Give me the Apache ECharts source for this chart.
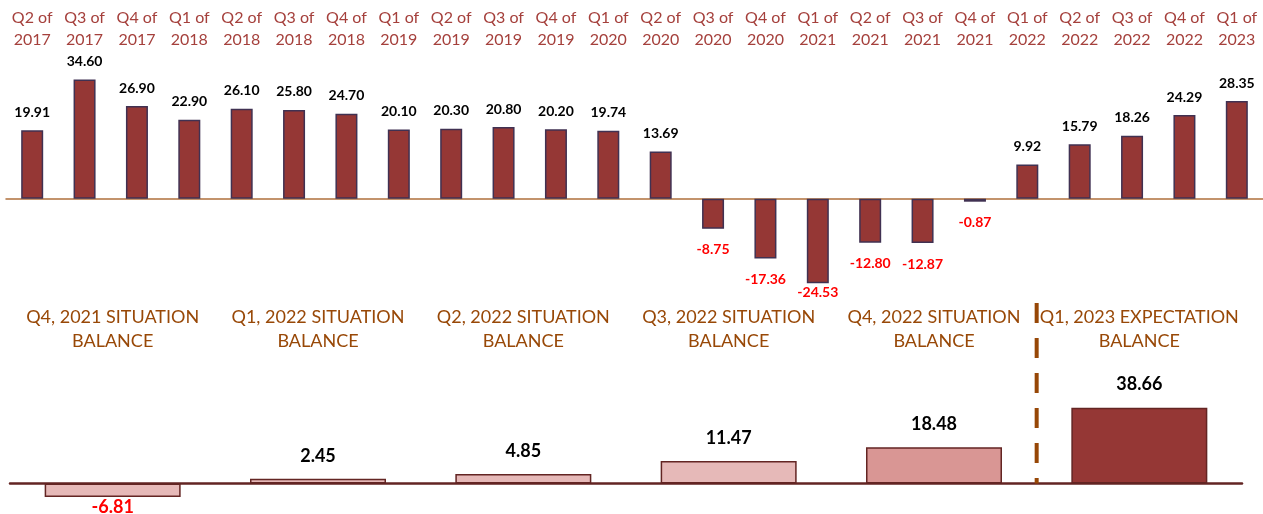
<!DOCTYPE html>
<html><head><meta charset="utf-8">
<script src="https://cdn.jsdelivr.net/npm/echarts@6/dist/echarts.min.js"></script>
<style>html,body{margin:0;padding:0;background:#fff}#c{width:1263px;height:514px}</style>
</head><body><div id="c"></div>
<script>
const quarters = ['Q2 of\n2017','Q3 of\n2017','Q4 of\n2017','Q1 of\n2018','Q2 of\n2018','Q3 of\n2018','Q4 of\n2018','Q1 of\n2019','Q2 of\n2019','Q3 of\n2019','Q4 of\n2019','Q1 of\n2020','Q2 of\n2020','Q3 of\n2020','Q4 of\n2020','Q1 of\n2021','Q2 of\n2021','Q3 of\n2021','Q4 of\n2021','Q1 of\n2022','Q2 of\n2022','Q3 of\n2022','Q4 of\n2022','Q1 of\n2023'];
const quarterValues = [19.91,34.60,26.90,22.90,26.10,25.80,24.70,20.10,20.30,20.80,20.20,19.74,13.69,-8.75,-17.36,-24.53,-12.80,-12.87,-0.87,9.92,15.79,18.26,24.29,28.35];
const balanceCategories = ['Q4, 2021 SITUATION\nBALANCE','Q1, 2022 SITUATION\nBALANCE','Q2, 2022 SITUATION\nBALANCE','Q3, 2022 SITUATION\nBALANCE','Q4, 2022 SITUATION\nBALANCE','Q1, 2023 EXPECTATION\nBALANCE'];
const balanceValues = [-6.81,2.45,4.85,11.47,18.48,38.66];
const dividerAt = 4.5;

const balanceColors = ['#e6b9b8','#e6b9b8','#e6b9b8','#e6b9b8','#d99694','#953735'];
const FONT = 'Lato';
const topMin = -30, topMax = 40, botMin = -14, botMax = 92;
const topH = 241, botH = 208;

// keep negative labels inside the plot area (like the original)
function negDist(v, min, h, want, labelH) {
  const room = (v - min) * h / (topMax - topMin);
  return Math.max(0, Math.min(want, room - labelH));
}

const topData = quarterValues.map(v => ({
  value: v,
  label: v < 0
    ? {position:'bottom', distance:Math.max(0, Math.min(14, (v - topMin) * topH / (topMax - topMin) - 17)), color:'#ff0000'}
    : {position:'top', distance:11, color:'#000'}
}));
const botData = balanceValues.map((v,i) => ({
  value: v,
  itemStyle: {color: balanceColors[i]},
  label: v < 0
    ? {position:'bottom', distance:1, color:'#ff0000'}
    : {position:'top', distance:14, color:'#000'}
}));

const chart = echarts.init(document.getElementById('c'), null, {renderer:'canvas'});
chart.setOption({
  animation:false,
  grid:[
    {left:6, right:0, top:61, height:topH},
    {left:10, right:21, top:303, height:botH}
  ],
  xAxis:[
    {gridIndex:0, type:'category', data:quarters, position:'bottom',
     axisLine:{onZero:true, lineStyle:{color:'#b0703c', width:1.5}},
     axisTick:{show:false}, axisLabel:{show:false}},
    {gridIndex:0, type:'category', data:quarters, position:'top',
     axisLine:{show:false}, axisTick:{show:false},
     axisLabel:{interval:0, margin:10, color:'#a5403c', fontFamily:FONT, fontSize:16, lineHeight:22}},
    {gridIndex:1, type:'category', data:balanceCategories, position:'bottom',
     axisLine:{onZero:true, lineStyle:{color:'#632523', width:2.5}},
     axisTick:{show:false}, axisLabel:{show:false}},
    {gridIndex:1, type:'category', data:balanceCategories, position:'top',
     axisLine:{show:false}, axisTick:{show:false},
     axisLabel:{interval:0, inside:true, margin:2, color:'#984807', fontFamily:FONT, fontSize:18, lineHeight:24}},
    {gridIndex:1, type:'value', min:-0.5, max:balanceValues.length-0.5, show:false}
  ],
  yAxis:[
    {gridIndex:0, type:'value', min:topMin, max:topMax, show:false, splitLine:{show:false}},
    {gridIndex:1, type:'value', min:botMin, max:botMax, show:false, splitLine:{show:false}}
  ],
  series:[
    {type:'bar', xAxisIndex:0, yAxisIndex:0, data:topData, barWidth:22,
     itemStyle:{color:'#953735', borderColor:'#403152', borderWidth:1.5},
     label:{show:true, fontFamily:FONT, fontWeight:'bold', fontSize:14, formatter: p => p.value.toFixed(2)}},
    {type:'bar', xAxisIndex:2, yAxisIndex:1, data:botData, barWidth:136,
     itemStyle:{borderColor:'#632523', borderWidth:1.5},
     label:{show:true, fontFamily:FONT, fontWeight:'bold', fontSize:18, formatter: p => p.value.toFixed(2)}},
    {type:'line', xAxisIndex:4, yAxisIndex:1, data:[[dividerAt, botMax],[dividerAt, 0]],
     symbol:'none', silent:true,
     lineStyle:{color:'#974706', width:4, type:[20,15]}}
  ]
});
</script></body></html>
